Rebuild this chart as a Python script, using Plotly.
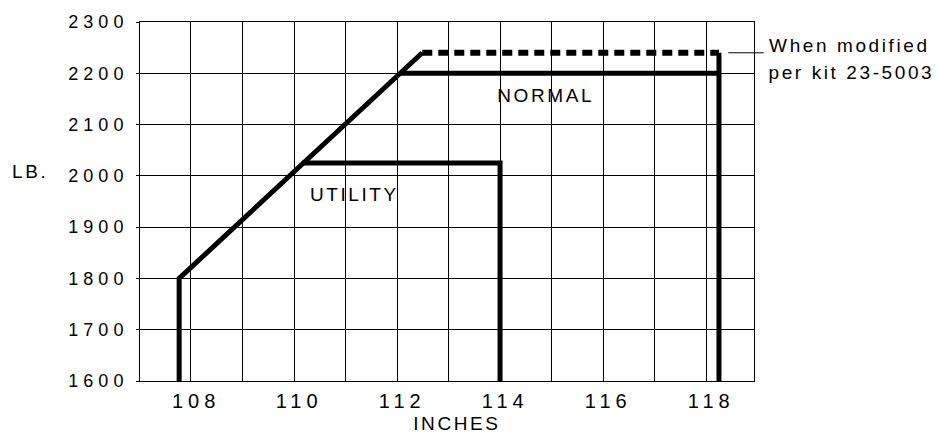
import plotly.graph_objects as go

# weight (lb) vs c.g. arm (inches)
fwd_x = [107.67, 107.67, 112.39]
fwd_y = [1600, 1800, 2240]
normal_x = [111.96, 118.15]
normal_y = [2200, 2200]
modified_x = [112.39, 118.15]
modified_y = [2240, 2240]
aft_x = [118.15, 118.15]
aft_y = [2240, 1600]
utility_x = [110.06, 113.90, 113.90]
utility_y = [2025, 2025, 1600]

x_ticks = [108, 110, 112, 114, 116, 118]
y_ticks = [1600, 1700, 1800, 1900, 2000, 2100, 2200, 2300]

FONT = "Liberation Sans, Arial, sans-serif"
SPACING = 2.6  # px letter spacing on annotation text

fig = go.Figure()

solid = dict(color="black", width=5)
for xs, ys in [(fwd_x, fwd_y), (normal_x, normal_y), (aft_x, aft_y), (utility_x, utility_y)]:
    fig.add_trace(go.Scatter(x=xs, y=ys, mode="lines", line=solid, showlegend=False,
                             hoverinfo="skip"))

fig.add_trace(go.Scatter(x=modified_x, y=modified_y, mode="lines",
                         line=dict(color="black", width=6, dash="10px,6px"),
                         showlegend=False, hoverinfo="skip"))

fig.update_layout(
    width=937, height=436,
    margin=dict(l=140, r=183, t=19, b=55),
    paper_bgcolor="white", plot_bgcolor="white",
    font=dict(family=FONT, color="black", size=19),
    xaxis=dict(
        range=[106.91, 118.83],
        tickvals=x_ticks,
        showgrid=False,
        ticks="", ticklabelstandoff=2,
        tickfont=dict(size=20),
        showline=True, linecolor="black", linewidth=1, mirror=True,
        zeroline=False,
        minor=dict(tick0=107.9, dtick=1, showgrid=True, gridcolor="black", gridwidth=1),
    ),
    yaxis=dict(
        range=[1600, 2300],
        tickvals=y_ticks,
        showgrid=True, gridcolor="black", gridwidth=1,
        ticks="outside", ticklen=3, tickcolor="black",
        ticklabelstandoff=4,
        tickfont=dict(size=18),
        showline=True, linecolor="black", linewidth=1, mirror=True,
        zeroline=False,
    ),
)

txt = dict(showarrow=False, yanchor="middle", font=dict(family=FONT, size=19, color="black"))
fig.add_annotation(text="NORMAL", x=114.79, y=2157, xref="x", yref="y", xanchor="center", **txt)
fig.add_annotation(text="UTILITY", x=111.07, y=1964, xref="x", yref="y", xanchor="center", **txt)
fig.add_annotation(text="LB.", x=-0.179, y=0.583, xref="paper", yref="paper",
                   xanchor="center", **txt)
fig.add_annotation(text="INCHES", x=0.516, y=-0.119, xref="paper", yref="paper",
                   xanchor="center", **txt)

# left-aligned notes: the letter spacing grows about the text centre, so push them right
for note, y in [("When modified", 0.934), ("per kit 23-5003", 0.8605)]:
    fig.add_annotation(text=note, x=1.021, y=y, xref="paper", yref="paper",
                       xanchor="left", xshift=len(note) * SPACING / 2, **txt)

# leader from the dashed line to the note
fig.add_annotation(text="", x=modified_x[-1] + 0.18, y=modified_y[-1], xref="x", yref="y",
                   showarrow=True, arrowhead=0, arrowwidth=1, arrowcolor="black",
                   ax=37, ay=0, standoff=0)

page_css = """
var s = document.createElement('style');
s.textContent = 'body {margin: 0;} .xtick text, .ytick text {letter-spacing: 5px;} .annotation-text {letter-spacing: %spx;}';
document.head.appendChild(s);
""" % SPACING

fig.write_html("out.html", post_script=page_css, config={"displayModeBar": False})
